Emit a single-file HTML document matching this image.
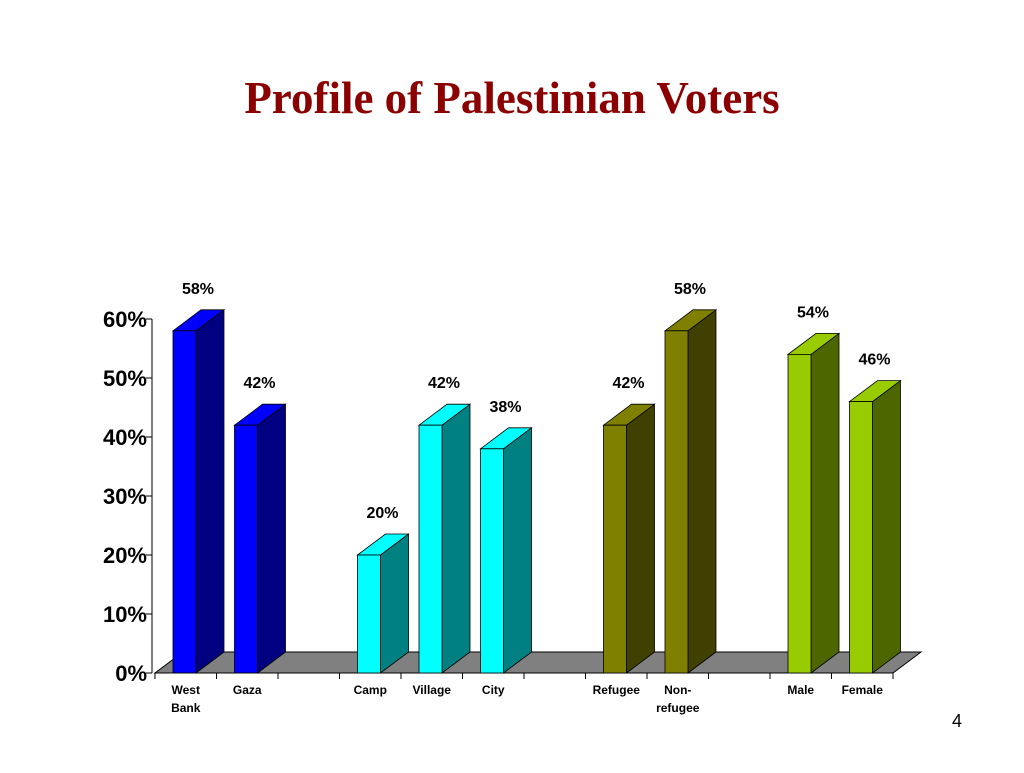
<!DOCTYPE html>
<html><head><meta charset="utf-8"><style>
body{margin:0;background:#fff;width:1024px;height:768px;overflow:hidden}
svg text{font-family:"Liberation Sans",Arial,sans-serif}
</style></head><body>
<svg width="1024" height="768" xmlns="http://www.w3.org/2000/svg">
<text x="512" y="113" text-anchor="middle" style="font-family:'Liberation Serif',serif;font-weight:bold;font-size:45px" fill="#8B0000">Profile of Palestinian Voters</text>
<text x="957" y="727" text-anchor="middle" font-size="18">4</text>
<g id="plot"></g>
</svg>
<script>
const categories=["West|Bank","Gaza","","Camp","Village","City","","Refugee","Non-|refugee","","Male","Female"];
const values=[58,42,null,20,42,38,null,42,58,null,54,46];
const groups=[0,0,null,1,1,1,null,2,2,null,3,3];
const yTicks=[0,10,20,30,40,50,60];
const fronts=["#0000FF","#00FFFF","#808000","#99CC00"];
const sides=["#000080","#008080","#404000","#4D6600"];
const X0=155,X1=893,Y0=673,PX=59,DX=28,DY=21;
const slot=(X1-X0)/categories.length;
const y=v=>Y0-v*PX/10;
const xs=i=>X0+i*slot;
const g=document.getElementById('plot');
const NS="http://www.w3.org/2000/svg";
function mk(t,a){const e=document.createElementNS(NS,t);for(const k in a)e.setAttribute(k,a[k]);g.appendChild(e);return e;}
let e;
e=mk('polygon',{points:`${X0},${Y0} ${X1},${Y0} ${X1+DX},${Y0-DY} ${X0+DX},${Y0-DY}`,fill:'#808080',stroke:'#000','stroke-width':1});


e=mk('line',{x1:X0-3,y1:y(60),x2:X0-3,y2:Y0,stroke:'#000'});


yTicks.forEach(t=>{
 let l=mk('line',{x1:X0-9,y1:y(t),x2:X0-3,y2:y(t),stroke:'#000'});
 
 
 let tx=mk('text',{x:X0-8,y:y(t)+8,'text-anchor':'end','font-size':22,'font-weight':'bold'});
 tx.textContent=t+'%';
 
 
});
for(let i=0;i<=categories.length;i++){
 let l=mk('line',{x1:xs(i),y1:Y0,x2:xs(i),y2:Y0+6,stroke:'#000'});
 
 
}
categories.forEach((c,i)=>{
 if(!c)return;
 c.split('|').forEach((p,k)=>{
  let t=mk('text',{x:xs(i)+slot/2,y:Y0+21+k*18,'text-anchor':'middle','font-size':12,'font-weight':'bold'});
  t.textContent=p;
  
  
 });
});
values.forEach((v,i)=>{
 if(v==null)return;
 const gi=groups[i],l=xs(i)+18,w=23,top=y(v);
 let s=mk('polygon',{points:`${l+w},${Y0} ${l+w+DX},${Y0-DY} ${l+w+DX},${top-DY} ${l+w},${top}`,fill:sides[gi],stroke:'#000','stroke-width':0.8});
 
 
 let tp=mk('polygon',{points:`${l},${top} ${l+w},${top} ${l+w+DX},${top-DY} ${l+DX},${top-DY}`,fill:fronts[gi],stroke:'#000','stroke-width':0.8});
 
 
 let f=mk('rect',{x:l,y:top,width:w,height:Y0-top,fill:fronts[gi],stroke:'#000','stroke-width':0.8});
 
 
 let t=mk('text',{x:l+25,y:top-37,'text-anchor':'middle','font-size':16,'font-weight':'bold'});
 t.textContent=v+'%';
 
 
});
</script>
</body></html>
